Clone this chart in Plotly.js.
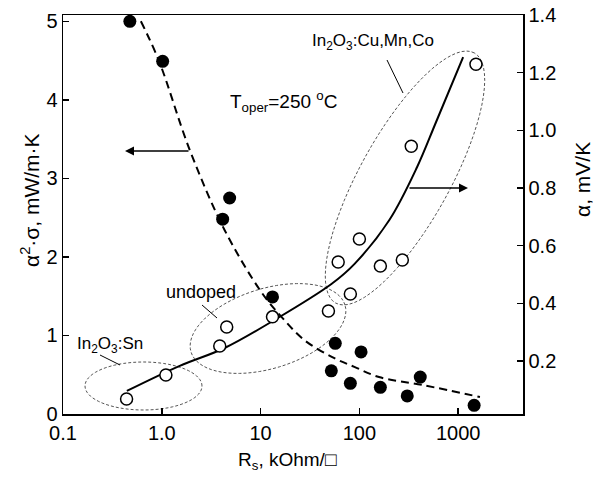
<!DOCTYPE html>
<html>
<head>
<meta charset="utf-8">
<script src="https://cdn.plot.ly/plotly-3.0.1.min.js"></script>
<style>html,body{margin:0;padding:0;background:#fff;}#chart{width:593px;height:477px;}</style>
</head>
<body>
<div id="chart"></div>
<script>
// ---- data ----
// power factor alpha^2*sigma (left axis), filled circles
const pfRs  = [0.475, 1.02, 4.13, 4.86, 13.2, 57, 104, 52, 81, 163, 413, 305, 1450];
const pfVal = [5.0, 4.49, 2.48, 2.75, 1.49, 0.90, 0.79, 0.55, 0.39, 0.34, 0.47, 0.23, 0.11];
// Seebeck coefficient alpha (right axis), open circles
const alRs  = [0.44, 1.10, 3.86, 4.54, 13.2, 48.6, 81, 61, 163, 272, 100, 335, 1514];
const alVal = [0.068, 0.151, 0.252, 0.318, 0.353, 0.373, 0.432, 0.543, 0.529, 0.55, 0.623, 0.945, 1.229];
// trend curves
const alFitRs  = [0.443, 1.52, 4.33, 13.8, 52.1, 88.9, 201, 383, 596, 1122];
const alFitVal = [0.096, 0.183, 0.245, 0.342, 0.467, 0.536, 0.689, 0.872, 1.028, 1.254];
const pfFitRs  = [0.614, 0.933, 1.92, 4.33, 10.2, 16.7, 27.8, 55.8, 88.9, 158, 433, 1660];
const pfFitVal = [5.0, 4.50, 3.36, 2.34, 1.55, 1.22, 0.94, 0.71, 0.60, 0.47, 0.37, 0.216];
// ticks
const xTickVals = [0.1, 1, 10, 100, 1000];
const xTickText = ['0.1', '1.0', '10', '100', '1000'];
const yTickVals = [0, 1, 2, 3, 4, 5];
const y2TickVals = [0.2, 0.4, 0.6, 0.8, 1.0, 1.2, 1.4];
const y2TickText = ['0.2', '0.4', '0.6', '0.8', '1.0', '1.2', '1.4'];

// ---- layout helpers (figure pixels -> paper) ----
const W = 593, H = 477;
const M = {l: 63, r: 70, t: 15, b: 63};
const PW = W - M.l - M.r, PH = H - M.t - M.b;
const px = x => (x - M.l) / PW;
const py = y => (H - M.b - y) / PH;

function ellipsePath(cx, cy, a, b, deg) {
  const th = deg * Math.PI / 180;
  let d = '';
  const n = 72;
  for (let i = 0; i <= n; i++) {
    const t = 2 * Math.PI * i / n;
    const x = cx + a * Math.cos(t) * Math.cos(th) - b * Math.sin(t) * Math.sin(th);
    const y = cy - (a * Math.cos(t) * Math.sin(th) + b * Math.sin(t) * Math.cos(th));
    d += (i === 0 ? 'M' : 'L') + px(x).toFixed(5) + ',' + py(y).toFixed(5);
  }
  return d + 'Z';
}

const FONT = 'Liberation Sans, Arial, sans-serif';
const ellLine = {color: '#555', width: 1, dash: '3px,2px'};

const traces = [
  {x: pfFitRs, y: pfFitVal, mode: 'lines', line: {color: '#000', width: 2, dash: '8px,5px', shape: 'spline', smoothing: 1}, yaxis: 'y', hoverinfo: 'skip'},
  {x: alFitRs, y: alFitVal, mode: 'lines', line: {color: '#000', width: 2, shape: 'spline', smoothing: 1}, yaxis: 'y2', hoverinfo: 'skip'},
  {x: pfRs, y: pfVal, mode: 'markers', marker: {symbol: 'circle', size: 13, color: '#000'}, yaxis: 'y'},
  {x: alRs, y: alVal, mode: 'markers', marker: {symbol: 'circle', size: 12, color: '#fff', line: {color: '#000', width: 1.5}}, yaxis: 'y2'}
];

const shapes = [
  {type: 'path', xref: 'paper', yref: 'paper', path: ellipsePath(143.5, 386, 58.5, 24, 0), line: ellLine, layer: 'below'},
  {type: 'path', xref: 'paper', yref: 'paper', path: ellipsePath(268, 328.5, 80.5, 40, 17), line: ellLine, layer: 'below'},
  {type: 'path', xref: 'paper', yref: 'paper', path: ellipsePath(405, 178, 143, 45, 61), line: ellLine, layer: 'below'},
  {type: 'line', xref: 'paper', yref: 'paper', x0: px(387), y0: py(60), x1: px(403), y1: py(93), line: {color: '#000', width: 1}},
  {type: 'line', xref: 'paper', yref: 'paper', x0: px(202), y0: py(305), x1: px(217), y1: py(318), line: {color: '#000', width: 1}},
  {type: 'line', xref: 'paper', yref: 'paper', x0: px(100), y0: py(355), x1: px(120), y1: py(365), line: {color: '#000', width: 1}}
];

const ann = (text, x, y, size, extra) => Object.assign({text: text, xref: 'paper', yref: 'paper', x: px(x), y: py(y), xanchor: 'center', yanchor: 'middle', showarrow: false, font: {family: FONT, size: size, color: '#000'}}, extra || {});

const annotations = [
  ann('In<sub>2</sub>O<sub>3</sub>:Cu,Mn,Co', 373, 42, 17),
  ann('undoped', 201, 292, 18),
  ann('In<sub>2</sub>O<sub>3</sub>:Sn', 110, 345, 17),
  ann('T<sub>oper</sub>=250 <sup>o</sup>C', 283, 101, 19),
  ann('α<sup>2</sup>·σ, mW/m·K', 30, 200, 21, {textangle: -90}),
  ann('α, mV/K', 582, 180, 21, {textangle: -90}),
  ann('R<sub>s</sub>, kOhm/□', 287, 461, 19),
  {text: '', xref: 'paper', yref: 'paper', x: px(125), y: py(151), ax: 65, ay: 0, showarrow: true, arrowhead: 2, arrowsize: 1.2, arrowwidth: 1.5, arrowcolor: '#000'},
  {text: '', xref: 'paper', yref: 'paper', x: px(468), y: py(188), ax: -60, ay: 0, showarrow: true, arrowhead: 2, arrowsize: 1.2, arrowwidth: 1.5, arrowcolor: '#000'}
];

const axisCommon = {showgrid: false, zeroline: false, showline: true, linecolor: '#000', linewidth: 1.5, ticks: 'inside', ticklen: 6, tickwidth: 1.5, tickcolor: '#000', tickfont: {family: FONT, size: 20, color: '#000'}};

const layout = {
  width: W, height: H,
  margin: M,
  paper_bgcolor: '#fff', plot_bgcolor: '#fff',
  showlegend: false,
  xaxis: Object.assign({}, axisCommon, {type: 'log', range: [-1, 3.656], tickvals: xTickVals, ticktext: xTickText, mirror: true}),
  yaxis: Object.assign({}, axisCommon, {range: [0, 5.08], tickvals: yTickVals}),
  yaxis2: Object.assign({}, axisCommon, {overlaying: 'y', side: 'right', range: [0.016, 1.4], tickvals: y2TickVals, ticktext: y2TickText}),
  shapes: shapes,
  annotations: annotations
};

Plotly.newPlot('chart', traces, layout, {staticPlot: true, displayModeBar: false});
</script>
</body>
</html>
